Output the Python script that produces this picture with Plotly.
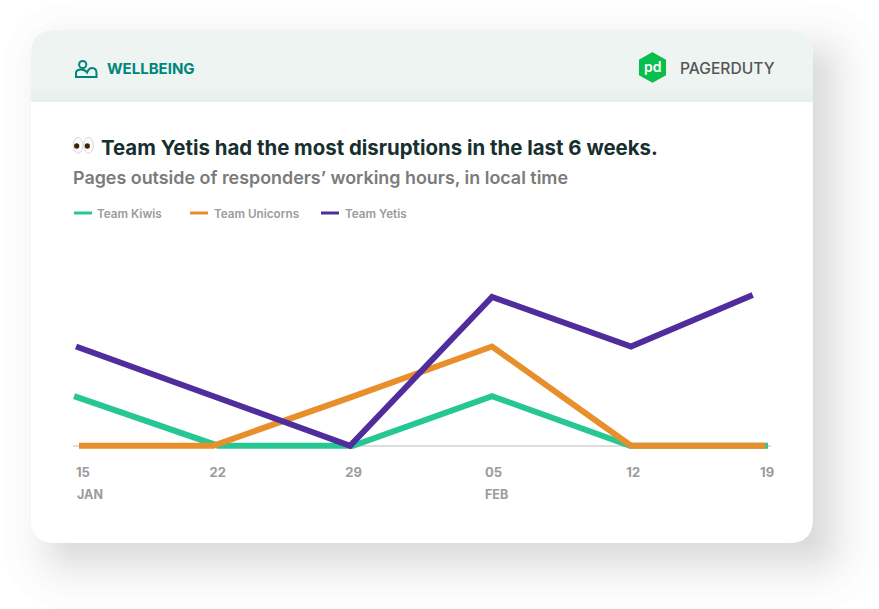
import numpy as np
import plotly.graph_objects as go

W, H = 879, 609

# days since 15 Jan
kiwis_x = [-0.2, 7.11, 13.97, 21.03, 28.04, 35.05]
kiwis_y = [1, 0, 0, 1, 0, 0]
unicorns_x = [0.05, 6.86, 14.02, 21.03, 28.09, 34.93]
unicorns_y = [0, 0, 1, 2, 0, 0]
yetis_x = [-0.1, 6.9, 13.82, 21.03, 28.09, 34.27]
yetis_y = [2, 1, 0, 3, 2, 3.04]

tick_days = [0.25, 7.1, 14, 21.1, 28.2, 35]
tick_labels = ["15", "22", "29", "05", "12", "19"]
legend_names = ["Team Kiwis", "Team Unicorns", "Team Yetis"]

GREEN = "#26c795"
ORANGE = "#e88f2c"
PURPLE = "#4f2d9c"
TEAL = "#00857c"
GREY = "#9b9b9b"
FONT = "Inter"


def px(x):
    return x / W


def py(y):
    return 1 - y / H


def path(s):
    # pixel path "x y" pairs -> paper coordinates
    out = []
    is_x = True
    for tok in s.split():
        if tok.isalpha():
            out.append(tok)
            is_x = True
        else:
            val = float(tok)
            out.append(f"{px(val) if is_x else py(val):.5f}")
            is_x = not is_x
    return " ".join(out)


def round_rect(x0, y0, x1, y1, r, bottom=True):
    s = f"M {x0 + r} {y0} L {x1 - r} {y0} Q {x1} {y0} {x1} {y0 + r} "
    if bottom:
        s += f"L {x1} {y1 - r} Q {x1} {y1} {x1 - r} {y1} L {x0 + r} {y1} Q {x0} {y1} {x0} {y1 - r} "
    else:
        s += f"L {x1} {y1} L {x0} {y1} "
    s += f"L {x0} {y0 + r} Q {x0} {y0} {x0 + r} {y0} Z"
    return path(s)


def shape_path(s, fill="rgba(0,0,0,0)", line=None, width=0, opacity=1, layer="below"):
    return dict(type="path", xref="paper", yref="paper", path=s, fillcolor=fill,
                line=dict(color=line or "rgba(0,0,0,0)", width=width),
                opacity=opacity, layer=layer)


def circle(cx, cy, rx, ry, fill, line=None, width=0):
    return dict(type="circle", xref="paper", yref="paper", layer="above",
                x0=px(cx - rx), x1=px(cx + rx), y0=py(cy + ry), y1=py(cy - ry),
                fillcolor=fill, line=dict(color=line or "rgba(0,0,0,0)", width=width))


def label(text, x, y, size, color, weight=400, anchor="left"):
    return dict(text=text, x=px(x), y=py(y), xref="paper", yref="paper", showarrow=False,
                xanchor=anchor, yanchor="middle", borderpad=0,
                font=dict(family=FONT, size=size, color=color, weight=weight))


shapes = []

# card shadow, soft falloff from stacked rects
for t in np.linspace(0.03, 0.97, 21):
    e = 14 * np.log(t / (1 - t))
    shapes.append(shape_path(round_rect(51 - e, 50 - e, 833 + e, 563 + e, max(30 + e, 10)),
                             fill="#000000", opacity=0.0078))

# card and header
shapes.append(shape_path(round_rect(31, 30, 813, 543, 24), fill="#ffffff"))
shapes.append(shape_path(round_rect(31, 30, 813, 102, 24, bottom=False), fill="#edf4f1"))
for y in range(86, 102, 3):
    shapes.append(dict(type="rect", xref="paper", yref="paper", layer="below",
                       x0=px(31), x1=px(813), y0=py(102), y1=py(y),
                       fillcolor="#5f8a7a", opacity=0.008, line_width=0))

# wellbeing icon
shapes.append(circle(82.7, 64.5, 3.6, 3.6, "rgba(0,0,0,0)", TEAL, 2))
shapes.append(shape_path(path("M 76 77 L 76 73 Q 76 69.5 81 69.5 Q 85 69.5 87 72.5 Q 89 68 92 68 Q 96.5 68 96.5 73 L 96.5 77 Z"),
                         line=TEAL, width=2, layer="above"))

# pagerduty logo
shapes.append(shape_path(path("M 652.5 53.5 L 664.8 60.4 L 664.8 74.4 L 652.5 81.3 L 640.2 74.4 L 640.2 60.4 Z"),
                         fill="#07bf4c", line="#07bf4c", width=2.5, layer="above"))

# eyes
for cx, ex in [(78, 76.7), (88.6, 87.3)]:
    shapes.append(circle(cx, 145.3, 4.8, 8, "#fbfbfb", "#cfcfcf", 0.8))
    shapes.append(circle(ex, 146, 2.6, 2.8, "#3d2208"))

# legend keys
for x0, color in zip([74, 190, 321], [GREEN, ORANGE, PURPLE]):
    shapes.append(dict(type="line", xref="paper", yref="paper", layer="above",
                       x0=px(x0), x1=px(x0 + 18), y0=py(213), y1=py(213),
                       line=dict(color=color, width=3)))

annotations = [
    label("WELLBEING", 105.5, 69, 15, TEAL, 700),
    label("PAGERDUTY", 679, 68.5, 15.6, "#555555", 500),
    label("pd", 652.5, 66.5, 14, "#ffffff", 600, "center"),
    label("Team Yetis had the most disruptions in the last 6 weeks.", 100, 147, 20.4, "#17302f", 700),
    label("Pages outside of responders’ working hours, in local time", 72, 178, 17.9, "#7b7b7b", 600),
    label("JAN", 75.5, 494, 12.5, GREY, 700),
    label("FEB", 483.5, 494, 12.5, GREY, 700),
]
for name, x0 in zip(legend_names, [96, 213, 344]):
    annotations.append(label(name, x0, 213.5, 11.7, GREY, 600))

fig = go.Figure()
for name, x, y, color in [
    (legend_names[0], kiwis_x, kiwis_y, GREEN),
    (legend_names[1], unicorns_x, unicorns_y, ORANGE),
    (legend_names[2], yetis_x, yetis_y, PURPLE),
]:
    fig.add_trace(go.Scatter(x=x, y=y, name=name, mode="lines",
                             line=dict(color=color, width=6)))

fig.update_layout(
    width=W, height=H,
    margin=dict(l=0, r=0, t=0, b=0, autoexpand=False),
    paper_bgcolor="#ffffff",
    plot_bgcolor="rgba(0,0,0,0)",
    showlegend=False,
    shapes=shapes,
    annotations=annotations,
    font_family=FONT,
)
fig.update_xaxes(
    domain=[px(73), px(771)], range=[-0.254, 35.2],
    tickmode="array", tickvals=tick_days, ticktext=tick_labels,
    showgrid=False, zeroline=False, ticks="", showline=False,
    ticklabelstandoff=3,
    tickfont=dict(family=FONT, size=13, color=GREY, weight=700),
)
fig.update_yaxes(
    domain=[py(460), py(285)], range=[-0.288, 3.24],
    showgrid=False, showticklabels=False, ticks="",
    zeroline=True, zerolinecolor="#dddddd", zerolinewidth=1.5,
)

fig.write_html("out.html", config=dict(displayModeBar=False),
               post_script="document.body.style.margin='0';")
